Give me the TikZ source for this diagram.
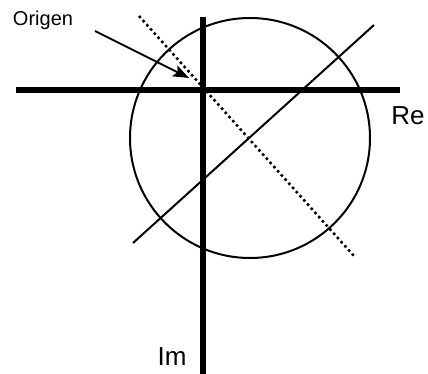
\documentclass[tikz,border=0pt]{standalone}
\usepackage{fontspec}
\setmainfont{Liberation Sans}
\usetikzlibrary{arrows.meta}

\tikzset{
  axis/.style={line width=3.8pt},
  thinline/.style={line width=1.5pt},
  dotline/.style={line width=1.9pt, dash pattern=on 1.9pt off 2.3pt},
  lbl/.style={anchor=base, inner sep=0pt}
}

\begin{document}
\begin{tikzpicture}[x=0.75pt, y=-0.75pt]
  \useasboundingbox (0,0) rectangle (428,374);

  % ejes
  \coordinate (reL) at (16,90);
  \coordinate (reR) at (400,90);
  \coordinate (imT) at (203,17);
  \coordinate (imB) at (203,374);
  \draw[axis] (reL) -- (reR);
  \draw[axis] (imT) -- (imB);
  \node[lbl, font=\fontsize{19.5}{22}\selectfont] (re) at (408,125) {Re};
  \node[lbl, font=\fontsize{19.5}{22}\selectfont] (im) at (172,365) {Im};

  % circulo y rectas
  \coordinate (c) at (250,138);
  \draw[thinline] (c) circle[radius=120];
  \coordinate (s1) at (133,243);
  \coordinate (s2) at (374,25);
  \draw[thinline] (s1) -- (s2);
  \coordinate (d1) at (139,16);
  \coordinate (d2) at (354,256);
  \draw[dotline] (d1) -- (d2);

  % origen
  \node[lbl, font=\fontsize{15}{17}\selectfont] (orig) at (43,26) {Origen};
  \coordinate (a1) at (95,31);
  \coordinate (a2) at (189,78);
  \draw[thinline, -{Stealth[length=12pt, width=9pt, inset=2.5pt]}] (a1) -- (a2);
\end{tikzpicture}
\end{document}
